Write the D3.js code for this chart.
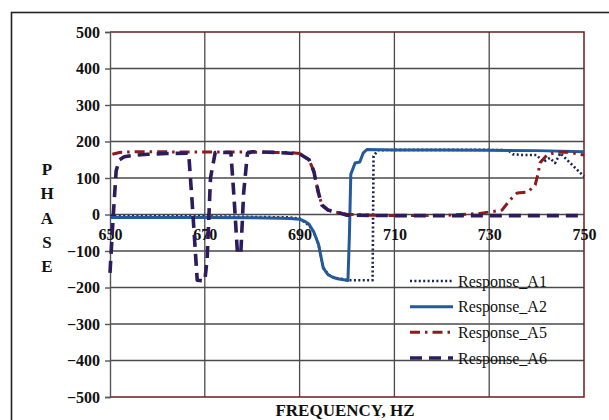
<!DOCTYPE html>
<html>
<head>
<meta charset="utf-8">
<script src="https://cdn.jsdelivr.net/npm/d3@7"></script>
<style>
  body { margin: 0; background: #fff; }
  svg { display: block; }
</style>
</head>
<body>
<svg id="graph"></svg>
<script>
// values
let xTicks = [650, 670, 690, 710, 730, 750]
let yTicks = [-500, -400, -300, -200, -100, 0, 100, 200, 300, 400, 500]
let yLetters = ['P', 'H', 'A', 'S', 'E']

let a1Freq  = [650, 670, 688, 690, 692, 693, 694, 695, 696, 697, 698, 699, 700.2, 703, 705.4, 705.6, 706.5, 710, 720, 730, 734, 735, 737, 740, 741.4, 742.8, 743.9, 745, 746, 747.5, 750]
let a1Phase = [-5, -5, -8, -11, -30, -48, -82, -145, -164, -171, -175, -177, -180, -180, -180, 160, 176, 177, 177, 177, 176, 165, 163, 163, 144, 155, 141, 168, 155, 136, 104]

let a2Freq  = [650, 660, 670, 680, 686, 688, 690, 691, 692, 693, 694, 694.5, 695, 696, 697, 698, 699, 700.2, 700.5, 700.8, 701.7, 702.7, 703.4, 704.2, 710, 720, 730, 740, 750]
let a2Phase = [-8, -8, -8, -9, -10, -11, -13, -18, -27, -48, -82, -115, -147, -165, -172, -176, -178, -181, -60, 110, 141, 144, 168, 178, 177, 177, 176, 175, 172]

let a5Freq  = [650.5, 652, 655, 660, 665, 670, 675, 680, 685, 688, 690, 692, 693, 694, 694.7, 696, 698.5, 700, 705, 710, 720, 728, 730.6, 732.7, 734.4, 735.9, 738.2, 739.7, 740.3, 740.7, 742.2, 744, 746.6, 749, 750]
let a5Phase = [165, 170, 172, 172, 171, 171, 171, 171, 170, 170, 167, 150, 118, 58, 26, 12, 4, 1, -2, -3, -3, 3, 8, 12, 40, 59, 62, 81, 111, 141, 163, 170, 171, 165, 163]

let a6Freq  = [650, 650.7, 651.3, 652, 653, 655, 658, 662, 666.6, 667.3, 668.4, 670, 670.5, 671.2, 672.2, 675.5, 676.2, 676.9, 677.6, 678.2, 679, 680, 685, 688, 690, 692, 693, 694, 694.7, 696, 698.5, 700, 710, 720, 730, 740, 750]
let a6Phase = [-160, 0, 120, 150, 158, 162, 165, 167, 168, 40, -180, -182, -120, 100, 170, 170, 40, -108, -105, 60, 168, 172, 170, 168, 166, 150, 118, 58, 26, 12, 4, -2, -3, -3, -3, -3, -3]

let seriesNames  = ['Response_A1', 'Response_A2', 'Response_A5', 'Response_A6']
let seriesColors = ['#1b2456', '#245a9b', '#8a1c1c', '#2e1b5e']
let seriesDash   = ['2,2.4', null, '10,5,2.5,5', '12,7']
let seriesWidth  = [2.6, 3, 3, 3.6]

function drawGraph() {
    let margin = {top: 32, bottom: 23, left: 110, right: 25}
    let fullWidth = 609
    let fullHeight = 420
    let width = fullWidth - margin.left - margin.right
    let height = fullHeight - margin.top - margin.bottom

    let svg = d3.select('svg#graph')
                  .attr('width', fullWidth)
                  .attr('height', fullHeight)

    svg.append('rect')
        .attr('width', fullWidth)
        .attr('height', fullHeight)
        .attr('fill', '#fff')

    // outer frame
    svg.append('rect')
        .attr('x', 11.5).attr('y', 12.5)
        .attr('width', 620).attr('height', 430)
        .attr('fill', 'none')
        .attr('stroke', '#222')
        .attr('stroke-width', 1.6)

    let graph = svg.append('g')
                  .attr('transform', 'translate(' + margin.left + ',' + margin.top + ')')

    let x = d3.scaleLinear().domain([650, 750]).range([0, width])
    let y = d3.scaleLinear().domain([-500, 500]).range([height, 0])

    let font = "'Liberation Serif', 'Times New Roman', serif"

    // grid
    graph.append('g').selectAll('line')
        .data(yTicks.filter(v => v > -500 && v < 500))
        .join('line')
        .attr('x1', 0).attr('x2', width)
        .attr('y1', d => y(d)).attr('y2', d => y(d))
        .attr('stroke', '#4a4a4a').attr('stroke-width', 1.3)

    graph.append('g').selectAll('line')
        .data(xTicks.filter(v => v > 650 && v < 750))
        .join('line')
        .attr('x1', d => x(d)).attr('x2', d => x(d))
        .attr('y1', 0).attr('y2', height)
        .attr('stroke', '#4a4a4a').attr('stroke-width', 1.3)

    // plot border (top, right, bottom)
    graph.append('path')
        .attr('d', `M0,${y(500)}H${x(750)}V${y(-500)}H0`)
        .attr('fill', 'none')
        .attr('stroke', '#6e1c1c')
        .attr('stroke-width', 1.5)

    // y axis
    let yAxis = graph.append('g')
        .call(d3.axisLeft(y).tickValues(yTicks).tickSize(5).tickPadding(5))
    yAxis.selectAll('path,line').attr('stroke', '#555').attr('stroke-width', 1.4)
    yAxis.selectAll('text')
        .attr('font-family', font)
        .attr('font-weight', 'bold')
        .attr('font-size', 16)
        .attr('fill', '#111')

    // x axis labels on the zero line
    let xAxis = graph.append('g')
        .attr('transform', 'translate(0,' + y(0) + ')')
        .call(d3.axisBottom(x).tickValues(xTicks).tickSize(0).tickPadding(14))
    xAxis.select('.domain').remove()
    xAxis.selectAll('text')
        .attr('font-family', font)
        .attr('font-weight', 'bold')
        .attr('font-size', 16)
        .attr('fill', '#111')

    // series
    let data = [
        d3.zip(a1Freq, a1Phase),
        d3.zip(a2Freq, a2Phase),
        d3.zip(a5Freq, a5Phase),
        d3.zip(a6Freq, a6Phase)
    ]
    let line = d3.line().x(d => x(d[0])).y(d => y(d[1]))

    graph.append('g').selectAll('path')
        .data(data)
        .join('path')
        .attr('d', line)
        .attr('fill', 'none')
        .attr('stroke', (d, i) => seriesColors[i])
        .attr('stroke-width', (d, i) => seriesWidth[i])
        .attr('stroke-dasharray', (d, i) => seriesDash[i])
        .attr('stroke-linejoin', 'round')

    // legend
    let legend = svg.append('g')
    let legendY = d3.scalePoint().domain(seriesNames).range([281, 358])
    let items = legend.selectAll('g')
        .data(seriesNames)
        .join('g')
        .attr('transform', d => 'translate(0,' + legendY(d) + ')')
    items.append('line')
        .attr('x1', 410).attr('x2', 453)
        .attr('stroke', (d, i) => seriesColors[i])
        .attr('stroke-width', (d, i) => seriesWidth[i])
        .attr('stroke-dasharray', (d, i) => seriesDash[i])
    items.append('text')
        .attr('x', 458)
        .attr('dy', '0.35em')
        .attr('font-family', font)
        .attr('font-size', 16)
        .attr('fill', '#111')
        .text(d => d)

    // axis titles
    svg.append('g').selectAll('text')
        .data(yLetters)
        .join('text')
        .attr('x', 47)
        .attr('y', (d, i) => 169 + i * 24.3)
        .attr('dy', '0.35em')
        .attr('text-anchor', 'middle')
        .attr('font-family', font)
        .attr('font-weight', 'bold')
        .attr('font-size', 17)
        .attr('fill', '#111')
        .text(d => d)

    svg.append('text')
        .attr('x', 345)
        .attr('y', 416)
        .attr('text-anchor', 'middle')
        .attr('font-family', font)
        .attr('font-weight', 'bold')
        .attr('font-size', 17)
        .attr('fill', '#111')
        .text('FREQUENCY, HZ')
}

drawGraph()
</script>
</body>
</html>
